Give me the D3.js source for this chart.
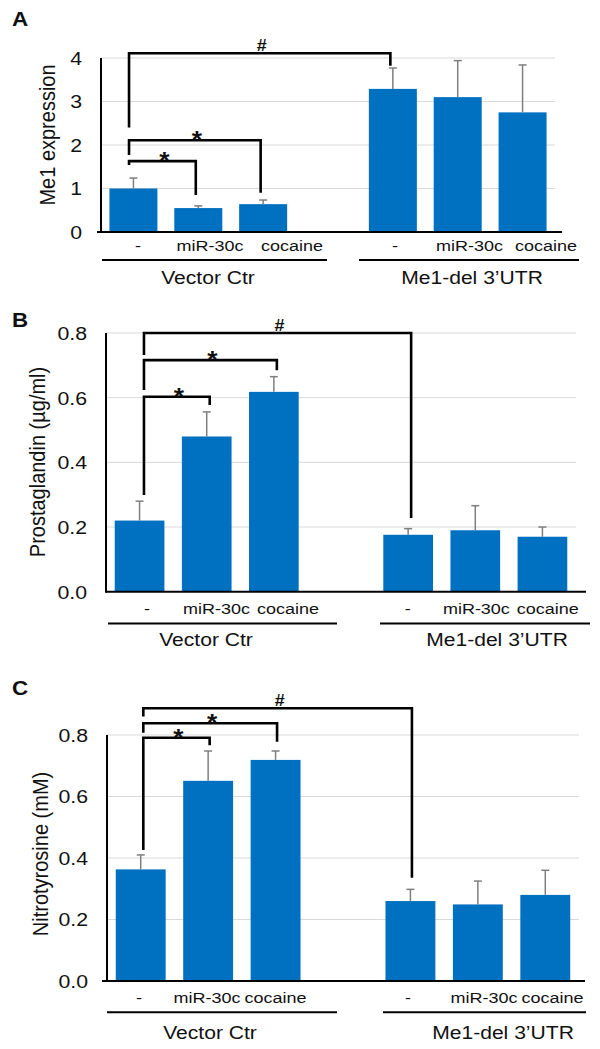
<!DOCTYPE html>
<html><head><meta charset="utf-8">
<script src="https://cdn.jsdelivr.net/npm/d3@7"></script>
<style>body{margin:0;background:#fff}svg{display:block}</style>
</head><body>
<svg id="chart" width="600" height="1049"></svg>
<script>
// ---------- data ----------
const treatments = ["-", "miR-30c", "cocaine"];
const groups = ["Vector Ctr", "Me1-del 3\u2019UTR"];
const panelLetters = ["A", "B", "C"];
const yTitles = ["Me1 expression", "Prostaglandin (\u00b5g/ml)", "Nitrotyrosine (mM)"];

const me1Mean = [1.00, 0.55, 0.64, 3.29, 3.10, 2.75];
const me1Err  = [0.24, 0.05, 0.095, 0.48, 0.84, 1.09];
const pgMean  = [0.22, 0.48, 0.618, 0.176, 0.19, 0.17];
const pgErr   = [0.06, 0.076, 0.047, 0.019, 0.076, 0.03];
const ntMean  = [0.363, 0.651, 0.719, 0.26, 0.249, 0.28];
const ntErr   = [0.047, 0.097, 0.029, 0.038, 0.076, 0.08];

const me1Ticks = [0, 1, 2, 3, 4];
const rateTicks = [0, 0.2, 0.4, 0.6, 0.8];
const me1Domain = [0, 4];
const rateDomain = [0, 0.8];

// significance brackets: [fromSlot, toSlot, topValue, leftEndValue, rightEndValue, symbol]
const me1Brackets = [[0, 4, 4.11, 2.40, 3.82, "#"], [0, 2, 2.11, 1.77, 0.90, "*"], [0, 1, 1.63, 1.54, 0.85, "*"]];
const pgBrackets  = [[0, 4, 0.80, 0.732, 0.228, "#"], [0, 2, 0.716, 0.624, 0.685, "*"], [0, 1, 0.603, 0.299, 0.577, "*"]];
const ntBrackets  = [[0, 4, 0.887, 0.86, 0.336, "#"], [0, 2, 0.838, 0.807, 0.778, "*"], [0, 1, 0.791, 0.426, 0.767, "*"]];

// bar slots (slot 3 is the gap between groups)
const barSlots = [0, 1, 2, 4, 5, 6];
const slotIds = [0, 1, 2, 3, 4, 5, 6];

// ---------- layout ----------
const layout = [
  {x0:101, x1:555, yTop:58, yBot:232, baseX0:97, baseX1:562, tickRight:82, titleX:55, titleY:135, letterY:26,
   catY:251, lineY:260, groupY:284, groupLines:[[102,327],[359,579]], groupX:[208,472],
   catDx:[4.6,11.7,28.9,2.1,11.8,23.4], dxL:-4.4, dxR:-2.5, fmt:d3.format("d")},
  {x0:106, x1:576, yTop:333, yBot:591.7, baseX0:106, baseX1:586, tickRight:87, titleX:45, titleY:462, letterY:327,
   catY:614, lineY:623.5, groupY:646, groupLines:[[108,337],[380,590]], groupX:[206,497],
   catDx:[7.4,9.8,14.1,-0.3,1.1,5.4], dxL:4.4, dxR:3, fmt:d3.format(".1f")},
  {x0:107, x1:579, yTop:735, yBot:981, baseX0:102, baseX1:585, tickRight:88, titleX:48, titleY:854, letterY:695,
   catY:1003, lineY:1012.3, groupY:1039, groupLines:[[107,337],[383,586]], groupX:[210,503],
   catDx:[-1.7,-1.1,-0.1,-2.4,6.1,7.2], dxL:2.6, dxR:1.5, fmt:d3.format(".1f")}
];

const panels = [
  {mean: me1Mean, err: me1Err, ticks: me1Ticks, domain: me1Domain, brackets: me1Brackets},
  {mean: pgMean, err: pgErr, ticks: rateTicks, domain: rateDomain, brackets: pgBrackets},
  {mean: ntMean, err: ntErr, ticks: rateTicks, domain: rateDomain, brackets: ntBrackets}
];

const FONT = "'Liberation Sans', Arial, Helvetica, sans-serif";
const BAR = "#0070C0";
const svg = d3.select("#chart");

function stext(g, x, y, str, size, opts = {}) {
  const sx = opts.sx || 1.15;
  return g.append("text")
    .attr("transform", `translate(${x},${y}) scale(${sx},1)` + (opts.rotate ? ` rotate(${opts.rotate})` : ""))
    .attr("text-anchor", opts.anchor || "middle")
    .attr("dominant-baseline", opts.baseline || "auto")
    .attr("font-family", FONT)
    .attr("font-size", size)
    .attr("font-weight", opts.bold ? "bold" : "normal")
    .attr("fill", "#111")
    .text(str);
}

panels.forEach((p, pi) => {
  const L = layout[pi];
  const g = svg.append("g");
  const x = d3.scaleBand().domain(slotIds).range([L.x0, L.x1]).paddingInner(0.26).paddingOuter(0.13);
  const y = d3.scaleLinear().domain(p.domain).range([L.yBot, L.yTop]);
  const cx = s => x(s) + x.bandwidth() / 2;

  // gridlines
  g.append("g").selectAll("line").data(p.ticks.filter(t => t > 0)).join("line")
    .attr("x1", L.x0).attr("x2", L.x1).attr("y1", d => y(d)).attr("y2", d => y(d))
    .attr("stroke", "#d9d9d9").attr("stroke-width", 1);

  // tick labels via axis
  const ax = g.append("g").attr("transform", `translate(${L.x0},0)`)
    .call(d3.axisLeft(y).tickValues(p.ticks).tickFormat(L.fmt).tickSize(0).tickPadding(0));
  ax.select(".domain").remove();
  ax.selectAll(".tick text").remove();
  ax.selectAll(".tick").each(function(d) {
    stext(d3.select(this), L.tickRight - L.x0, 0, L.fmt(d), 18.5, {anchor: "end", baseline: "central", sx: 1.15});
  });

  // bars
  g.append("g").selectAll("rect").data(p.mean).join("rect")
    .attr("x", (d, i) => x(barSlots[i])).attr("width", x.bandwidth())
    .attr("y", d => y(d)).attr("height", d => y(0) - y(d))
    .attr("fill", BAR);

  // error bars (upper only)
  const eb = g.append("g").attr("stroke", "#7f7f7f").attr("stroke-width", 1.5);
  p.mean.forEach((m, i) => {
    const c = cx(barSlots[i]);
    eb.append("line").attr("x1", c).attr("x2", c).attr("y1", y(m)).attr("y2", y(m + p.err[i]));
    eb.append("line").attr("x1", c - 4).attr("x2", c + 4).attr("y1", y(m + p.err[i])).attr("y2", y(m + p.err[i]));
  });

  // axes lines
  g.append("line").attr("x1", L.x0).attr("x2", L.x0).attr("y1", y(p.domain[1])).attr("y2", y(0) + 1)
    .attr("stroke", "#000").attr("stroke-width", 2);
  g.append("line").attr("x1", L.baseX0).attr("x2", L.baseX1).attr("y1", y(0)).attr("y2", y(0))
    .attr("stroke", "#000").attr("stroke-width", 2);

  // brackets
  p.brackets.forEach(b => {
    const xl = cx(b[0]) + L.dxL, xr = cx(b[1]) + L.dxR;
    const yt = y(b[2]);
    g.append("path")
      .attr("d", `M${xl},${y(b[3])}V${yt}H${xr}V${y(b[4])}`)
      .attr("fill", "none").attr("stroke", "#000").attr("stroke-width", 2.6)
      .attr("stroke-linejoin", "miter");
    const mx = (xl + xr) / 2 + 2;
    if (b[5] === "*") {
      stext(g, mx, yt + 8, "*", 24, {bold: true, sx: 1.1});
    } else {
      stext(g, mx, yt - 2, "#", 17, {bold: true, sx: 1.05});
    }
  });

  // category labels
  p.mean.forEach((m, i) => {
    stext(g, cx(barSlots[i]) + L.catDx[i], L.catY, treatments[i % 3], 15, {sx: 1.2});
  });

  // group lines and labels
  L.groupLines.forEach((gl, gi) => {
    g.append("line").attr("x1", gl[0]).attr("x2", gl[1]).attr("y1", L.lineY).attr("y2", L.lineY)
      .attr("stroke", "#000").attr("stroke-width", 2);
    stext(g, L.groupX[gi], L.groupY, groups[gi], 18.5, {sx: 1.14});
  });

  // y title
  stext(g, L.titleX, L.titleY, yTitles[pi], 20, {rotate: -90, sx: 1.1});

  // panel letter
  stext(g, 12, L.letterY, panelLetters[pi], 20, {bold: true, anchor: "start", sx: 1.12});
});
</script>
</body></html>
